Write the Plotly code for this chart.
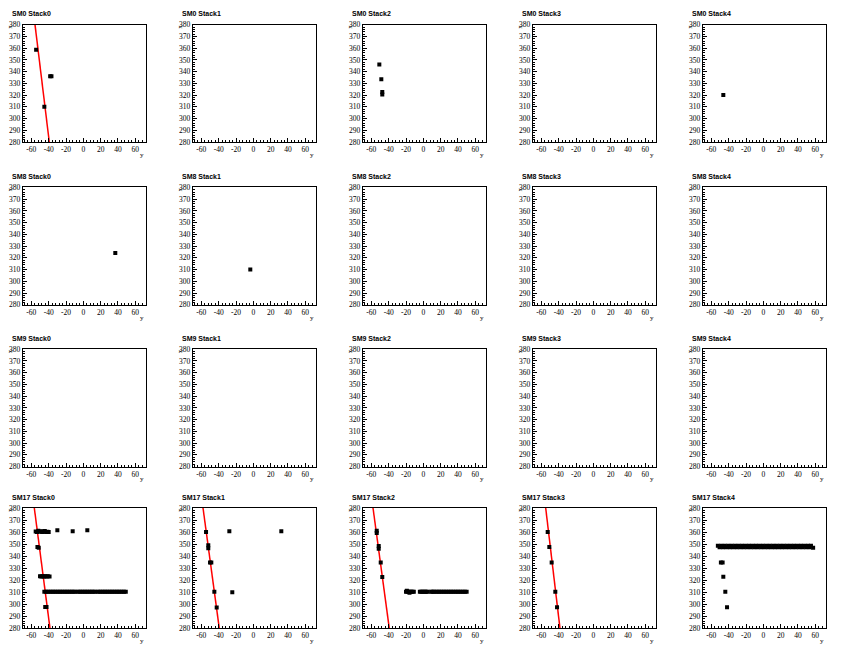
import plotly.graph_objects as go

# ---------------- data ----------------
titles = [
    ["SM0 Stack0", "SM0 Stack1", "SM0 Stack2", "SM0 Stack3", "SM0 Stack4"],
    ["SM8 Stack0", "SM8 Stack1", "SM8 Stack2", "SM8 Stack3", "SM8 Stack4"],
    ["SM9 Stack0", "SM9 Stack1", "SM9 Stack2", "SM9 Stack3", "SM9 Stack4"],
    ["SM17 Stack0", "SM17 Stack1", "SM17 Stack2", "SM17 Stack3", "SM17 Stack4"],
]

x_tick_vals = [-60, -40, -20, 0, 20, 40, 60]
x_tick_text = ["-60", "-40", "-20", "0", "20", "40", "60"]
y_tick_vals = [280, 290, 300, 310, 320, 330, 340, 350, 360, 370, 380]
y_tick_text = [str(v) for v in y_tick_vals]
x_range = [-70, 72]
y_range = [280, 380]

# hits (y coordinate on horizontal axis, x coordinate on vertical axis)
sm0_s0_y = [-54.5, -38.3, -36.8, -45.0]
sm0_s0_x = [358.6, 336.0, 336.0, 310.2]
sm0_s2_y = [-50.8, -48.5, -47.4, -47.4]
sm0_s2_x = [346.0, 333.6, 322.6, 320.6]
sm0_s4_y = [-46.2]
sm0_s4_x = [320.2]
sm8_s0_y = [36.9]
sm8_s0_x = [324.2]
sm8_s1_y = [-3.5]
sm8_s1_x = [310.0]

sm17_s0_y = [-55.0, -53.5, -52.0, -50.5, -49.0, -47.5, -46.0, -44.5, -43.0, -41.5, -40.0,
             -30.0, -12.3, 4.6,
             -53.0, -51.5,
             -50.0, -48.5, -47.0, -45.5, -44.0, -42.5, -41.0, -39.0,
             -45.0, -43.0, -41.0, -39.0, -37.0, -35.0, -33.0, -31.0, -29.0, -27.0, -25.0,
             -23.0, -21.0, -19.0, -17.0, -15.0, -13.0, -11.0, -9.0, -6.0, -4.0, -2.0, 0.0,
             2.0, 4.0, 6.0, 8.0, 10.0, 12.0, 14.0, 17.0, 19.0, 21.0, 23.0, 25.0, 27.0,
             29.0, 31.0, 33.0, 35.0, 37.0, 39.0, 41.0, 43.0, 45.0, 47.0, 49.0,
             -44.0, -42.5]
sm17_s0_x = [360.5, 360.0, 361.0, 360.2, 360.6, 360.0, 360.4, 360.8, 360.0, 360.3, 360.0,
             361.5, 360.6, 361.5,
             347.5, 347.0,
             323.2, 323.0, 323.2, 323.0, 323.2, 323.0, 323.2, 323.0,
             310.3, 310.3, 310.3, 310.3, 310.3, 310.3, 310.3, 310.3, 310.3, 310.3, 310.3,
             310.3, 310.3, 310.3, 310.3, 310.3, 310.3, 310.3, 310.3, 310.3, 310.3, 310.3, 310.3,
             310.3, 310.3, 310.3, 310.3, 310.3, 310.3, 310.3, 310.3, 310.3, 310.3, 310.3, 310.3, 310.3,
             310.3, 310.3, 310.3, 310.3, 310.3, 310.3, 310.3, 310.3, 310.3, 310.3, 310.3,
             297.8, 297.8]

sm17_s1_y = [-54.6, -52.0, -52.0, -50.0, -48.5, -45.0, -42.3, -27.7, -24.3, 32.3]
sm17_s1_x = [360.1, 349.0, 346.5, 334.7, 334.7, 310.3, 297.2, 360.6, 310.0, 360.6]

sm17_s2_y = [-53.8, -53.8, -51.5, -51.5, -49.2, -47.4,
             -20.0, -18.5, -17.0, -15.5, -14.0, -12.5, -11.0, -19.0, -16.0,
             -4.0, -2.5, -1.0, 0.5, 2.0, 3.5, 5.0,
             9.0, 10.5, 12.0, 14.0, 16.0, 18.0, 20.0, 22.0, 24.0, 26.0, 28.0, 30.0,
             32.0, 34.0, 36.0, 38.0, 40.0, 42.0, 44.0, 46.0, 48.0, 50.0]
sm17_s2_x = [361.0, 359.2, 348.5, 346.2, 334.8, 322.6,
             310.3, 310.3, 310.3, 310.3, 310.3, 310.3, 310.3, 311.3, 309.6,
             310.3, 310.3, 310.3, 310.3, 310.3, 310.3, 310.3,
             310.3, 310.3, 310.3, 310.3, 310.3, 310.3, 310.3, 310.3, 310.3, 310.3, 310.3, 310.3,
             310.3, 310.3, 310.3, 310.3, 310.3, 310.3, 310.3, 310.3, 310.3, 310.3]

sm17_s3_y = [-52.7, -50.8, -48.1, -43.9, -41.9]
sm17_s3_x = [360.0, 347.5, 334.8, 310.3, 297.5]

sm17_s4_y = [-52.5, -50.5, -48.5, -46.5, -44.5, -42.5, -40.5, -38.5, -36.5, -34.5, -32.5,
             -30.5, -28.5, -26.5, -24.5, -22.5, -20.5, -18.5, -16.5, -14.5, -12.5, -10.5,
             -8.5, -6.5, -4.5, -2.5, -0.5, 1.5, 3.5, 5.5, 7.5, 9.5, 11.5, 13.5, 15.5, 17.5,
             19.5, 21.5, 23.5, 25.5, 27.5, 29.5, 31.5, 33.5, 35.5, 37.5, 39.5, 41.5, 43.5,
             45.5, 47.5, 49.5, 51.5, 53.5, 55.0, 57.5,
             -49.0, -47.0, -46.2, -43.9, -41.9]
sm17_s4_x = [348.6, 347.4, 348.6, 347.4, 348.6, 347.4, 348.6, 347.4, 348.6, 347.4, 348.6,
             347.4, 348.6, 347.4, 348.6, 347.4, 348.6, 347.4, 348.6, 347.4, 348.6, 347.4,
             348.6, 347.4, 348.6, 347.4, 348.6, 347.4, 348.6, 347.4, 348.6, 347.4, 348.6, 347.4, 348.6, 347.4,
             348.6, 347.4, 348.6, 347.4, 348.6, 347.4, 348.6, 347.4, 348.6, 347.4, 348.6, 347.4, 348.6,
             347.4, 348.6, 347.4, 348.6, 347.4, 348.6, 347.0,
             334.8, 334.8, 322.8, 310.3, 297.5]

# fitted tracks: horizontal-axis values at vertical = 380 and 280
fit_x_ends = [380, 280]
sm0_s0_fit = [-55.8, -39.3]
sm17_s0_fit = [-56.6, -38.5]
sm17_s1_fit = [-58.1, -39.3]
sm17_s2_fit = [-58.1, -39.3]
sm17_s3_fit = [-55.0, -38.5]

hits = {
    (0, 0): (sm0_s0_y, sm0_s0_x), (0, 2): (sm0_s2_y, sm0_s2_x), (0, 4): (sm0_s4_y, sm0_s4_x),
    (1, 0): (sm8_s0_y, sm8_s0_x), (1, 1): (sm8_s1_y, sm8_s1_x),
    (3, 0): (sm17_s0_y, sm17_s0_x), (3, 1): (sm17_s1_y, sm17_s1_x), (3, 2): (sm17_s2_y, sm17_s2_x),
    (3, 3): (sm17_s3_y, sm17_s3_x), (3, 4): (sm17_s4_y, sm17_s4_x),
}
fits = {(0, 0): sm0_s0_fit, (3, 0): sm17_s0_fit, (3, 1): sm17_s1_fit,
        (3, 2): sm17_s2_fit, (3, 3): sm17_s3_fit}

# ---------------- layout geometry ----------------
W, H = 851, 656
col_left, col_right, col_step = 22.7, 145.7, 170.0
row_tops = [21, 186, 350, 511]
row_bottoms = [140, 305, 469, 633]

fig = go.Figure()
layout = dict(width=W, height=H, margin=dict(l=0, r=0, t=0, b=0),
              paper_bgcolor="white", plot_bgcolor="white", showlegend=False)
annotations = []
tick_font = dict(family="Liberation Serif", size=7.5, color="black")

for r in range(4):
    for c in range(5):
        i = r * 5 + c + 1
        sx = "" if i == 1 else str(i)
        xa, ya = "x" + sx, "y" + sx
        x0 = (col_left + col_step * c) / W
        x1 = (col_right + col_step * c) / W
        y0 = 1 - row_bottoms[r] / H
        y1 = 1 - row_tops[r] / H
        layout["xaxis" + sx] = dict(
            domain=[x0, x1], range=x_range, anchor=ya, showgrid=False, zeroline=False,
            showline=True, linecolor="black", linewidth=1, mirror=True,
            ticks="inside", ticklen=4, tickcolor="black", tickwidth=1,
            tickvals=x_tick_vals, ticktext=x_tick_text, tickfont=tick_font,
            minor=dict(ticks="inside", ticklen=2, dtick=4, tick0=0, tickcolor="black", showgrid=False),
            fixedrange=True)
        layout["yaxis" + sx] = dict(
            domain=[y0, y1], range=y_range, anchor=xa, showgrid=False, zeroline=False,
            showline=True, linecolor="black", linewidth=1, mirror=True,
            ticks="inside", ticklen=4, tickcolor="black", tickwidth=1,
            tickvals=y_tick_vals, ticktext=y_tick_text, tickfont=tick_font,
            minor=dict(ticks="inside", ticklen=2, dtick=2, tick0=0, tickcolor="black", showgrid=False),
            fixedrange=True)
        # placeholder so that every frame is drawn
        fig.add_trace(go.Scatter(x=[None], y=[None], mode="markers", xaxis=xa, yaxis=ya,
                                 hoverinfo="skip"))
        if (r, c) in fits:
            fx = fits[(r, c)]
            fig.add_trace(go.Scatter(x=fx, y=fit_x_ends, mode="lines",
                                     line=dict(color="#ff0000", width=1.5),
                                     xaxis=xa, yaxis=ya, hoverinfo="skip"))
        if (r, c) in hits:
            hx, hy = hits[(r, c)]
            fig.add_trace(go.Scatter(x=hx, y=hy, mode="markers",
                                     marker=dict(symbol="square", size=4, color="black",
                                                 line=dict(width=0)),
                                     xaxis=xa, yaxis=ya))
        # title
        annotations.append(dict(text="<b>" + titles[r][c] + "</b>", xref="paper", yref="paper",
                                x=(col_step * c + 10) / W, y=1 - (row_tops[r] - 11) / H,
                                xanchor="left", yanchor="middle", showarrow=False,
                                font=dict(family="Liberation Sans", size=7, color="black")))
        # axis titles
        annotations.append(dict(text="x", xref="paper", yref="paper",
                                x=(col_step * c + 10) / W, y=1 - (row_tops[r] + 2) / H,
                                xanchor="center", yanchor="middle", showarrow=False, textangle=-90,
                                font=dict(family="Liberation Serif", size=7, color="black")))
        annotations.append(dict(text="y", xref="paper", yref="paper",
                                x=(col_step * c + 142.3) / W, y=1 - (row_bottoms[r] + 13) / H,
                                xanchor="center", yanchor="middle", showarrow=False,
                                font=dict(family="Liberation Serif", size=7, color="black")))

layout["annotations"] = annotations
fig.update_layout(**layout)
fig.write_html("out.html", config={"displayModeBar": False, "staticPlot": True},
               post_script="document.body.style.margin='0px';"
                           "document.documentElement.style.overflow='hidden';")
